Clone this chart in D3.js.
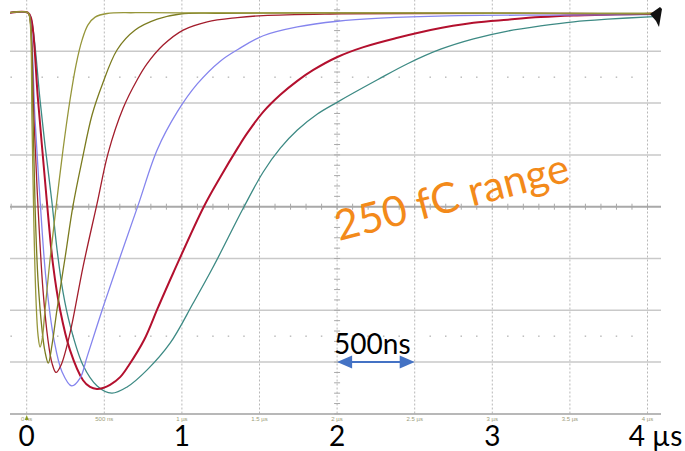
<!DOCTYPE html>
<html>
<head>
<meta charset="utf-8">
<script src="https://cdn.jsdelivr.net/npm/d3@7"></script>
<style>
  body { margin: 0; background: #fff; }
  svg { display: block; }
  .big-label { font-family: Lato, "Open Sans", sans-serif; font-size: 28px; fill: #000; }
  .small-tick { font-family: "Liberation Sans", Arial, sans-serif; font-size: 6px; fill: #9c9c7a; }
</style>
</head>
<body>
<div id="chart"></div>
<script>
/*
* Scope screenshot: shaper outputs, 250 fC range
*/

// time in ns, amplitude in scope divisions (0 = screen centre)
const olive1T = [-108, 8, 21, 34, 47, 60, 73, 86, 99, 118, 150, 189, 234, 279, 318, 357, 395, 441, 518, 700, 1200, 2000, 3000, 4050];
const olive1V = [3.745, 3.745, 3.6, 1.67, -0.45, -1.8, -2.48, -2.71, -2.57, -2.0, -1.03, -0.01, 1.1, 2.06, 2.74, 3.22, 3.51, 3.66, 3.73, 3.745, 3.74, 3.74, 3.735, 3.73];

const olive2T = [-108, 8, 21, 41, 54, 73, 99, 118, 139, 163, 195, 247, 299, 357, 421, 486, 583, 699, 841, 989, 1247, 2000, 3000, 4050];
const olive2V = [3.745, 3.745, 3.64, 1.67, 0.0, -1.42, -2.38, -2.8, -3.02, -2.67, -1.99, -0.99, 0.03, 0.9, 1.77, 2.35, 3.03, 3.41, 3.62, 3.72, 3.735, 3.74, 3.735, 3.73];

const red1T = [-108, 8, 21, 47, 73, 105, 137, 163, 189, 221, 279, 363, 454, 525, 621, 712, 776, 879, 1008, 1163, 1357, 1524, 1957, 2500, 3500, 4050];
const red1V = [3.745, 3.745, 3.64, 1.67, -0.01, -1.61, -2.57, -3.02, -3.2, -3.06, -2.44, -1.16, 0.07, 1.04, 1.9, 2.45, 2.76, 3.12, 3.41, 3.57, 3.65, 3.69, 3.72, 3.73, 3.73, 3.72];

const blueT = [-108, 8, 21, 54, 86, 125, 176, 228, 290, 344, 389, 492, 602, 718, 841, 970, 1099, 1247, 1363, 1524, 1744, 2002, 2279, 2711, 3376, 4021];
const blueV = [3.745, 3.745, 3.66, 1.67, 0.13, -1.42, -2.57, -3.19, -3.46, -3.31, -2.9, -1.94, -0.97, 0.03, 1.1, 1.83, 2.37, 2.81, 3.04, 3.3, 3.47, 3.58, 3.64, 3.685, 3.7, 3.71];

const red2T = [-108, 8, 28, 73, 129, 170, 215, 279, 363, 408, 452, 492, 537, 602, 654, 757, 847, 944, 1141, 1247, 1363, 1421, 1524, 1634, 1744, 1847, 2002, 2170, 2389, 2602, 2879, 3099, 3311, 3525, 3957, 4053];
const red2V = [3.745, 3.745, 3.64, 2.06, 0.13, -1.13, -1.99, -2.77, -3.35, -3.48, -3.52, -3.5, -3.44, -3.29, -3.08, -2.57, -1.94, -1.28, 0.0, 0.57, 1.15, 1.42, 1.83, 2.16, 2.43, 2.64, 2.89, 3.08, 3.26, 3.41, 3.55, 3.61, 3.66, 3.69, 3.72, 3.73];

const tealT = [-108, 8, 28, 86, 118, 161, 196, 234, 279, 363, 454, 548, 647, 776, 925, 1073, 1202, 1395, 1524, 1634, 1744, 1873, 2002, 2260, 2454, 2667, 2879, 3099, 3311, 3525, 3744, 4041];
const tealV = [3.745, 3.745, 3.64, 2.06, 1.19, 0.13, -0.84, -1.65, -2.28, -3.06, -3.46, -3.6, -3.48, -3.15, -2.63, -1.86, -1.16, -0.03, 0.67, 1.13, 1.48, 1.79, 2.02, 2.45, 2.76, 3.04, 3.24, 3.39, 3.49, 3.57, 3.62, 3.67];

const seriesNames = ['teal', 'red2', 'blue', 'red1', 'olive2', 'olive1'];

const tickTimes = [0, 500, 1000, 1500, 2000, 2500, 3000, 3500, 4000];
const tickSmall = ['0 ns', '500 ns', '1 µs', '1.5 µs', '2 µs', '2.5 µs', '3 µs', '3.5 µs', '4 µs'];
const bigTimes = [0, 1000, 2000, 3000, 4000];
const bigLabels = ['0', '1', '2', '3', '4 µs'];
const gridDivs = [3, 2, 1, 0, -1, -2, -3, -4];

let COLORS = {
  olive1: '#96963a',
  olive2: '#7b7b1f',
  red1: '#a31d2c',
  blue: '#8585ee',
  red2: '#b3102e',
  teal: '#3d8a84',
  note: '#f38a1a',
  arrow: '#4472c4'
};

const W = 685, H = 451;
const plotL = 10, plotR = 661;

let x = d3.scaleLinear().domain([0, 4000]).range([26.7, 647.5]);
let y = d3.scaleLinear().domain([-4, 4]).range([413.9, -0.5]);

let svg = d3.select('#chart').append('svg')
  .attr('width', W)
  .attr('height', H);

svg.append('rect').attr('width', W).attr('height', H).attr('fill', '#fff');

// graticule
let grid = svg.append('g');

grid.selectAll('.vline')
  .data(tickTimes)
  .enter().append('line')
  .attr('x1', d => x(d)).attr('x2', d => x(d))
  .attr('y1', y(4)).attr('y2', y(-4))
  .attr('stroke', '#b8b8b8')
  .attr('stroke-width', 1)
  .attr('stroke-dasharray', '2,2');

grid.selectAll('.hline')
  .data(gridDivs)
  .enter().append('line')
  .attr('x1', plotL).attr('x2', plotR)
  .attr('y1', d => y(d)).attr('y2', d => y(d))
  .attr('stroke', d => d === 0 ? '#a9a9a9' : (d === -4 ? '#a0a0a0' : '#c9c9c9'))
  .attr('stroke-width', d => d === 0 ? 2 : 1.5);

// minor ticks every 100 ns on the centre line
let minorT = d3.range(-100, 4100, 100);
grid.selectAll('.mtick')
  .data(minorT)
  .enter().append('line')
  .attr('x1', d => x(d)).attr('x2', d => x(d))
  .attr('y1', y(0) - 3).attr('y2', y(0) + 3)
  .attr('stroke', '#a9a9a9')
  .attr('stroke-width', 1);

// minor ticks every 0.2 div on the centre vertical
let minorV = d3.range(-20, 21).map(d => d / 5);
grid.selectAll('.vtick')
  .data(minorV)
  .enter().append('line')
  .attr('x1', x(2000) - 3).attr('x2', x(2000) + 3)
  .attr('y1', d => y(d)).attr('y2', d => y(d))
  .attr('stroke', '#a9a9a9')
  .attr('stroke-width', 1);

// dotted rows at +/- 2.5 div
[2.5, -2.5].forEach(function (row) {
  grid.selectAll('.dot' + (row > 0 ? 'p' : 'n'))
    .data(minorT.filter(d => d % 500 !== 0))
    .enter().append('rect')
    .attr('x', d => x(d) - 0.75)
    .attr('y', y(row) - 0.75)
    .attr('width', 1.5).attr('height', 1.5)
    .attr('fill', '#bdbdbd');
});

// small scope labels
svg.selectAll('.small-tick')
  .data(tickTimes)
  .enter().append('text')
  .attr('class', 'small-tick')
  .attr('x', d => x(d))
  .attr('y', 421)
  .attr('text-anchor', 'middle')
  .text((d, i) => tickSmall[i]);

// trigger marker
svg.append('path')
  .attr('d', 'M' + x(0) + ',' + (y(-4) + 1) + ' l-2,5 l4,0 z')
  .attr('fill', '#8a9a20');

// traces
let traces = {
  olive1: [olive1T, olive1V],
  olive2: [olive2T, olive2V],
  red1: [red1T, red1V],
  blue: [blueT, blueV],
  red2: [red2T, red2V],
  teal: [tealT, tealV]
};

svg.append('clipPath').attr('id', 'clip')
  .append('rect').attr('x', plotL).attr('y', 0).attr('width', plotR - plotL).attr('height', y(-4));

let line = d3.line()
  .x(d => x(d[0]))
  .y(d => y(d[1]))
  .curve(d3.curveCatmullRom.alpha(0.5));

let tg = svg.append('g').attr('clip-path', 'url(#clip)');
seriesNames.forEach(function (name) {
  let pts = traces[name][0].map((t, i) => [t, traces[name][1][i]]);
  tg.append('path')
    .datum(pts)
    .attr('d', line)
    .attr('fill', 'none')
    .attr('stroke', COLORS[name])
    .attr('stroke-width', name === 'red2' ? 2 : 1.3)
    .attr('stroke-linejoin', 'round');
});

// level marker at the right edge
svg.append('path')
  .attr('d', 'M650,14 L660,7 L662,9 L659,27 L656,21 Z')
  .attr('fill', '#111');

// big axis labels
svg.selectAll('.big-label')
  .data(bigTimes)
  .enter().append('text')
  .attr('class', 'big-label')
  .attr('x', d => d === 4000 ? x(d) + 8 : x(d))
  .attr('y', 446)
  .attr('text-anchor', 'middle')
  .text((d, i) => bigLabels[i]);

// 500 ns annotation
let ay = y(-3.0);
svg.append('line')
  .attr('x1', x(2000) + 10).attr('x2', x(2500) - 10)
  .attr('y1', ay).attr('y2', ay)
  .attr('stroke', COLORS.arrow)
  .attr('stroke-width', 2);
svg.append('path')
  .attr('d', 'M' + x(2000) + ',' + ay + ' l15,-6.5 l0,13 z')
  .attr('fill', COLORS.arrow);
svg.append('path')
  .attr('d', 'M' + x(2500) + ',' + ay + ' l-15,-6.5 l0,13 z')
  .attr('fill', COLORS.arrow);
svg.append('text')
  .attr('x', x(2000) - 3)
  .attr('y', 354)
  .attr('font-family', 'Lato, "Open Sans", sans-serif')
  .attr('font-size', 28)
  .attr('fill', '#000')
  .text('500ns');

// range note
svg.append('text')
  .attr('transform', 'translate(339,241) rotate(-14.5)')
  .attr('font-family', 'Lato, "Open Sans", sans-serif')
  .attr('font-size', 42)
  .attr('fill', COLORS.note)
  .text('250 fC range');
</script>
</body>
</html>
